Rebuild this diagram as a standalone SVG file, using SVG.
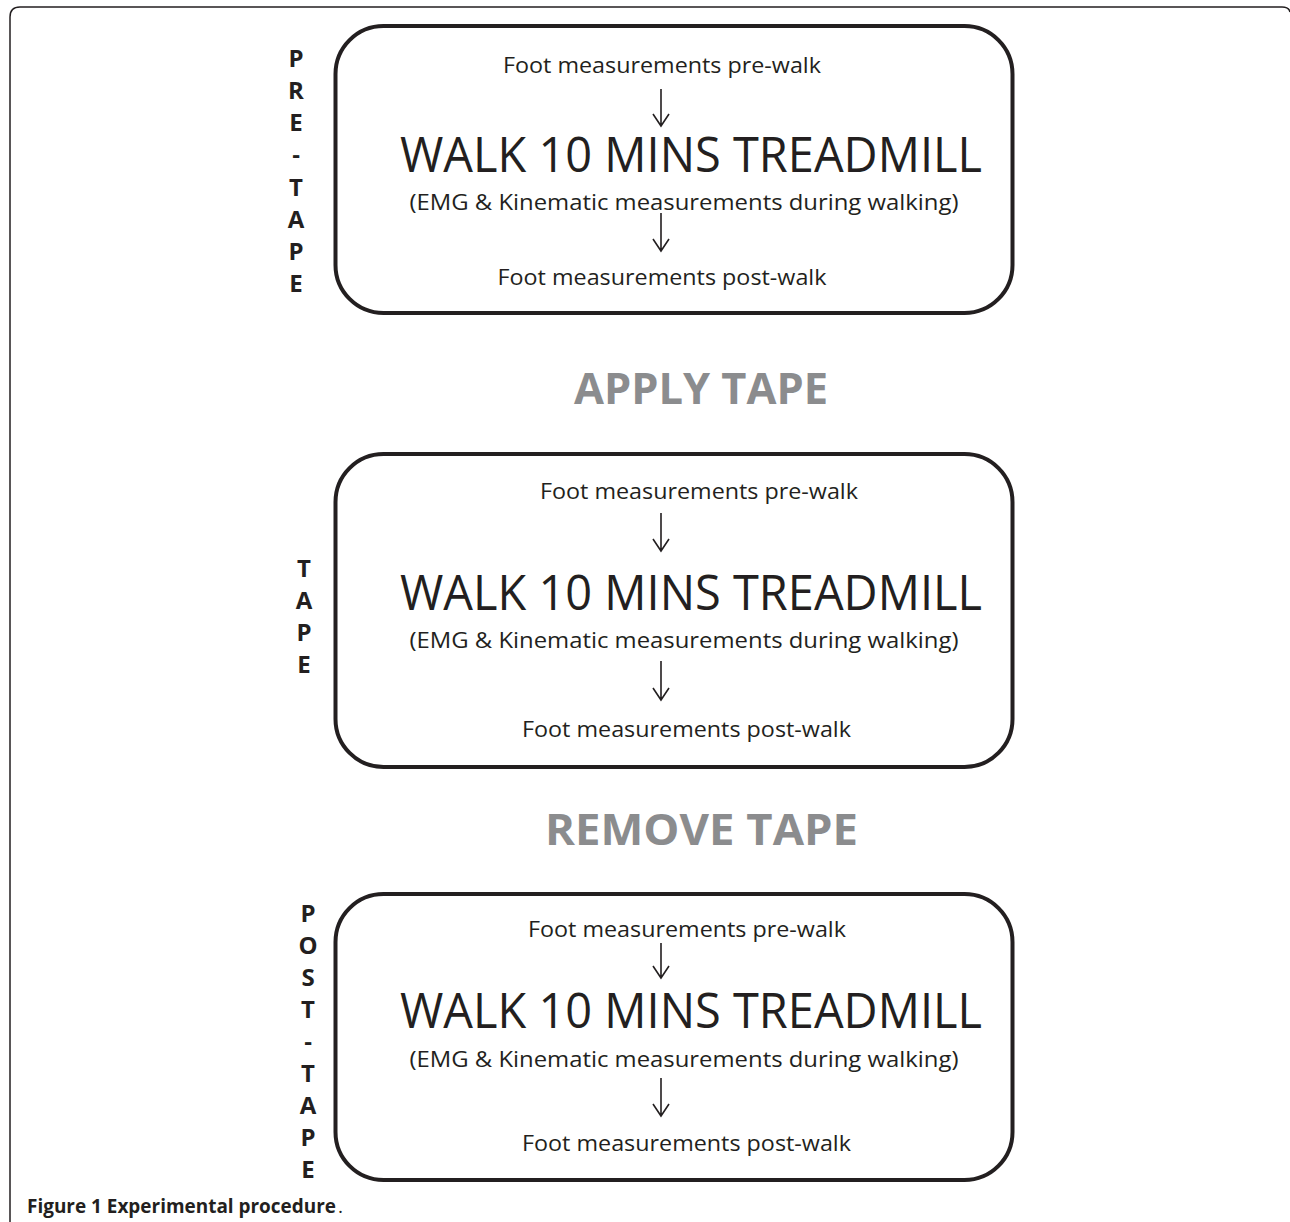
<svg xmlns="http://www.w3.org/2000/svg" width="1290" height="1222" viewBox="0 0 1290 1222">
<defs>
<style>
.box{fill:none;stroke:#231f20;stroke-width:4}
.frame{fill:none;stroke:#231f20;stroke-width:1.5}
.t{font-family:"Open Sans","Liberation Sans",sans-serif;fill:#231f20;text-anchor:middle}
.s{font-size:22px}
.big{font-size:49px}
.side{font-family:"Open Sans","Liberation Sans",sans-serif;font-weight:bold;font-size:24px;fill:#231f20;text-anchor:middle}
.step{font-family:"Open Sans","Liberation Sans",sans-serif;font-weight:bold;font-size:43px;fill:#8b8c8e;text-anchor:middle}
.arr{fill:none;stroke:#231f20;stroke-width:1.6}
.cap{font-family:"Open Sans","Liberation Sans",sans-serif;font-size:19px;fill:#231f20}
</style>
</defs>
<rect width="1290" height="1222" fill="#fff"/>
<path class="frame" d="M10,1222 V17 Q10,7 20,7 H1282 Q1289,7 1290,12"/>

<g id="node-pre">
<rect class="box" x="335.5" y="26" width="677" height="287" rx="48"/>
<text class="t s" x="662" y="73" textLength="318" lengthAdjust="spacingAndGlyphs">Foot measurements pre-walk</text>
<text class="t big" x="691" y="172" textLength="582" lengthAdjust="spacingAndGlyphs">WALK 10 MINS TREADMILL</text>
<text class="t s" x="684" y="210" textLength="549" lengthAdjust="spacingAndGlyphs">(EMG &amp; Kinematic measurements during walking)</text>
<text class="t s" x="662" y="285" textLength="329" lengthAdjust="spacingAndGlyphs">Foot measurements post-walk</text>
</g>
<g id="label-pre">
<text class="side" x="296" y="67">P</text>
<text class="side" x="296" y="99">R</text>
<text class="side" x="296" y="131">E</text>
<text class="side" x="296" y="163">-</text>
<text class="side" x="296" y="196">T</text>
<text class="side" x="296" y="228">A</text>
<text class="side" x="296" y="260">P</text>
<text class="side" x="296" y="292">E</text>
</g>

<g id="step-apply"><text class="step" x="701" y="404" textLength="254" lengthAdjust="spacingAndGlyphs">APPLY TAPE</text></g>

<g id="node-tape">
<rect class="box" x="335.5" y="454" width="677" height="313" rx="48"/>
<text class="t s" x="699" y="499" textLength="318" lengthAdjust="spacingAndGlyphs">Foot measurements pre-walk</text>
<text class="t big" x="691" y="610" textLength="582" lengthAdjust="spacingAndGlyphs">WALK 10 MINS TREADMILL</text>
<text class="t s" x="684" y="648" textLength="549" lengthAdjust="spacingAndGlyphs">(EMG &amp; Kinematic measurements during walking)</text>
<text class="t s" x="686.5" y="737" textLength="329" lengthAdjust="spacingAndGlyphs">Foot measurements post-walk</text>
</g>
<g id="label-tape">
<text class="side" x="304" y="577">T</text>
<text class="side" x="304" y="609">A</text>
<text class="side" x="304" y="641">P</text>
<text class="side" x="304" y="673">E</text>
</g>

<g id="step-remove"><text class="step" x="701.5" y="845" textLength="313" lengthAdjust="spacingAndGlyphs">REMOVE TAPE</text></g>

<g id="node-post">
<rect class="box" x="335.5" y="894" width="677" height="286" rx="48"/>
<text class="t s" x="687" y="937" textLength="318" lengthAdjust="spacingAndGlyphs">Foot measurements pre-walk</text>
<text class="t big" x="691" y="1028" textLength="582" lengthAdjust="spacingAndGlyphs">WALK 10 MINS TREADMILL</text>
<text class="t s" x="684" y="1067" textLength="549" lengthAdjust="spacingAndGlyphs">(EMG &amp; Kinematic measurements during walking)</text>
<text class="t s" x="686.5" y="1151" textLength="329" lengthAdjust="spacingAndGlyphs">Foot measurements post-walk</text>
</g>
<g id="label-post">
<text class="side" x="308" y="922">P</text>
<text class="side" x="308" y="954">O</text>
<text class="side" x="308" y="986">S</text>
<text class="side" x="308" y="1018">T</text>
<text class="side" x="308" y="1050">-</text>
<text class="side" x="308" y="1082">T</text>
<text class="side" x="308" y="1114">A</text>
<text class="side" x="308" y="1146">P</text>
<text class="side" x="308" y="1178">E</text>
</g>

<g id="connectors">
<path class="arr" d="M661,89 V126 M653,114 L661,126 L669,114"/>
<path class="arr" d="M661,213 V251 M653,239 L661,251 L669,239"/>
<path class="arr" d="M661,513 V551 M653,539 L661,551 L669,539"/>
<path class="arr" d="M661,661 V700 M653,688 L661,700 L669,688"/>
<path class="arr" d="M661,943 V978 M653,966 L661,978 L669,966"/>
<path class="arr" d="M661,1078 V1116 M653,1104 L661,1116 L669,1104"/>
</g>

<g id="caption">
<text class="cap" x="27" y="1213" font-weight="bold" textLength="309" lengthAdjust="spacingAndGlyphs">Figure 1 Experimental procedure</text>
<text class="cap" x="338" y="1213">.</text>
</g>
</svg>
